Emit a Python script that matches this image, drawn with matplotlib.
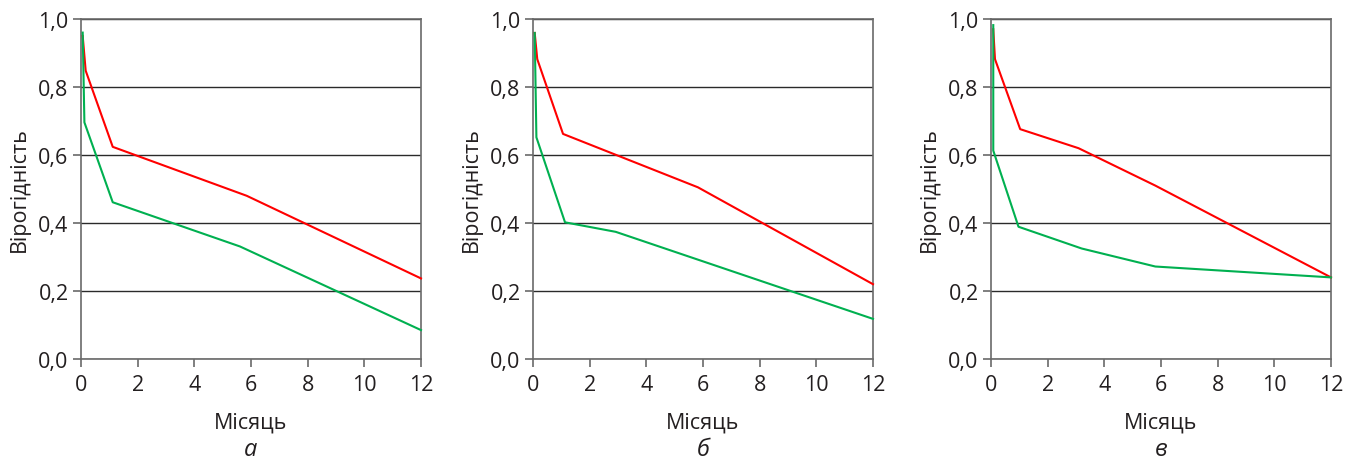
import matplotlib
matplotlib.use("Agg")
import matplotlib.pyplot as plt

plt.rcParams['font.family'] = ['Open Sans', 'DejaVu Sans']

# Panel a
a_red_x = [0.06, 0.165, 1.12, 5.85, 12.0]
a_red_y = [0.95, 0.848, 0.624, 0.48, 0.237]
a_green_x = [0.06, 0.12, 1.12, 5.61, 12.0]
a_green_y = [0.96, 0.696, 0.461, 0.331, 0.085]

# Panel b
b_red_x = [0.06, 0.15, 1.06, 5.82, 12.0]
b_red_y = [0.959, 0.882, 0.662, 0.505, 0.22]
b_green_x = [0.06, 0.12, 1.13, 2.92, 12.0]
b_green_y = [0.959, 0.652, 0.402, 0.374, 0.118]

# Panel c
c_red_x = [0.08, 0.14, 1.03, 3.09, 5.8, 12.0]
c_red_y = [0.97, 0.882, 0.676, 0.62, 0.51, 0.24]
c_green_x = [0.08, 0.08, 0.97, 3.2, 5.8, 12.0]
c_green_y = [0.982, 0.613, 0.389, 0.325, 0.272, 0.24]

panel_letters = ['а', 'б', 'в']
x_ticks = [0, 2, 4, 6, 8, 10, 12]
y_ticks = [0.0, 0.2, 0.4, 0.6, 0.8, 1.0]
y_ticklabels = ['0,0', '0,2', '0,4', '0,6', '0,8', '1,0']
xlabel = 'Місяць'
ylabel = 'Вірогідність'

panels = [
    (a_red_x, a_red_y, a_green_x, a_green_y),
    (b_red_x, b_red_y, b_green_x, b_green_y),
    (c_red_x, c_red_y, c_green_x, c_green_y),
]

fig = plt.figure(figsize=(13.46, 4.64), dpi=100)
lefts = [81, 533, 991]
W, H = 1346, 464
for i, (rx, ry, gx, gy) in enumerate(panels):
    ax = fig.add_axes([lefts[i] / W, (H - 360) / H, 340 / W, 340 / H])
    ax.set_xlim(0, 12)
    ax.set_ylim(0, 1.0)
    ax.set_xticks(x_ticks)
    ax.set_xticklabels([str(t) for t in x_ticks])
    ax.set_yticks(y_ticks)
    ax.set_yticklabels(y_ticklabels)
    ax.yaxis.grid(True, color='#2a2a2a', linewidth=1.0)
    ax.set_axisbelow(True)
    ax.plot(rx, ry, color='#ff0000', linewidth=1.5, clip_on=False, zorder=3)
    ax.plot(gx, gy, color='#00b050', linewidth=1.5, clip_on=False, zorder=3)
    for s in ax.spines.values():
        s.set_color('#6a6a6a')
        s.set_linewidth(1.2)
    ax.tick_params(axis='both', direction='out', length=6, width=1.2,
                   color='#6a6a6a', labelsize=15.5, labelcolor='#231f20', pad=5)
    ax.tick_params(axis='y', pad=3)
    ax.set_xlabel(xlabel, fontsize=15.5, color='#231f20', labelpad=12)
    ax.set_ylabel(ylabel, fontsize=15.5, color='#231f20', labelpad=6)
    ax.text(0.5, -0.265, panel_letters[i], transform=ax.transAxes,
            ha='center', va='center', fontsize=17, style='italic', color='#231f20')

fig.savefig('out.png', dpi=100)
